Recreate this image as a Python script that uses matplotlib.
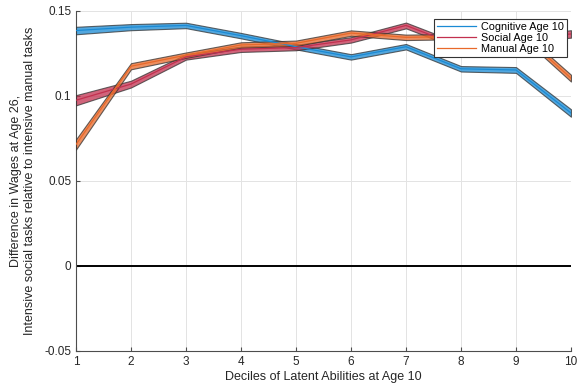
import numpy as np
import matplotlib.pyplot as plt

plt.rcParams['font.family'] = ['Liberation Sans', 'DejaVu Sans']

# deciles
deciles = [1, 2, 3, 4, 5, 6, 7, 8, 9, 10]

# point estimates
cognitive = [0.1385, 0.1405, 0.1415, 0.1355, 0.1290, 0.1230, 0.1290, 0.1160, 0.1153, 0.0900]
social = [0.0975, 0.1070, 0.1230, 0.1275, 0.1285, 0.1330, 0.1415, 0.1290, 0.1335, 0.1365]
manual = [0.0715, 0.1175, 0.1240, 0.1300, 0.1310, 0.1370, 0.1345, 0.1350, 0.1395, 0.1105]

# half widths of the bands
cognitive_hw = [0.0022, 0.0018, 0.0016, 0.0016, 0.0016, 0.0016, 0.0016, 0.0016, 0.0017, 0.0022]
social_hw = [0.0030, 0.0020, 0.0016, 0.0016, 0.0016, 0.0016, 0.0017, 0.0017, 0.0018, 0.0022]
manual_hw = [0.0030, 0.0018, 0.0016, 0.0016, 0.0016, 0.0016, 0.0016, 0.0016, 0.0017, 0.0020]

names = ['Cognitive Age 10', 'Social Age 10', 'Manual Age 10']
colors = ['#1a8ad4', '#c2304f', '#e8692a']

fig = plt.figure(figsize=(5.87, 3.83), dpi=100)
ax = fig.add_axes([0.1295, 0.0836, 0.8432, 0.8877])

x = np.array(deciles)
for vals, hw, c, name in zip([cognitive, social, manual], [cognitive_hw, social_hw, manual_hw], colors, names):
    v = np.array(vals)
    h = np.array(hw)
    ax.fill_between(x, v - h, v + h, facecolor=c, alpha=0.75, edgecolor='#333333', linewidth=0.8, zorder=3)
    ax.plot(x, v, color=c, lw=0.9, label=name, zorder=4)

ax.axhline(0, color='black', lw=1.4, zorder=2)

ax.set_xlim(1, 10)
ax.set_ylim(-0.05, 0.15)
ax.set_xticks(deciles)
ax.set_yticks([-0.05, 0, 0.05, 0.1, 0.15])
ax.set_yticklabels(['-0.05', '0', '0.05', '0.1', '0.15'])
ax.grid(True, color='#e3e3e3', lw=0.7, zorder=0)
ax.set_axisbelow(True)
for s in ['top', 'right']:
    ax.spines[s].set_visible(False)
for s in ['left', 'bottom']:
    ax.spines[s].set_color('#4d4d4d')
    ax.spines[s].set_linewidth(0.8)
ax.tick_params(direction='in', length=3, labelsize=8.5, colors='#4d4d4d', labelcolor='#262626')

ax.set_xlabel('Deciles of Latent Abilities at Age 10', fontsize=9, color='#262626', labelpad=2)
ax.set_ylabel('Difference in Wages at Age 26,\nIntensive social tasks relative to intensive manual tasks',
              fontsize=9, color='#262626', labelpad=6)

leg = ax.legend(loc='upper right', bbox_to_anchor=(0.992, 0.976), fontsize=7.8, frameon=True,
                fancybox=False, edgecolor='#333333', framealpha=1, borderpad=0.25,
                labelspacing=0.1, handlelength=3.6, handletextpad=0.5, borderaxespad=0.0)
leg.get_frame().set_linewidth(0.8)

fig.savefig('out.png', dpi=100)
